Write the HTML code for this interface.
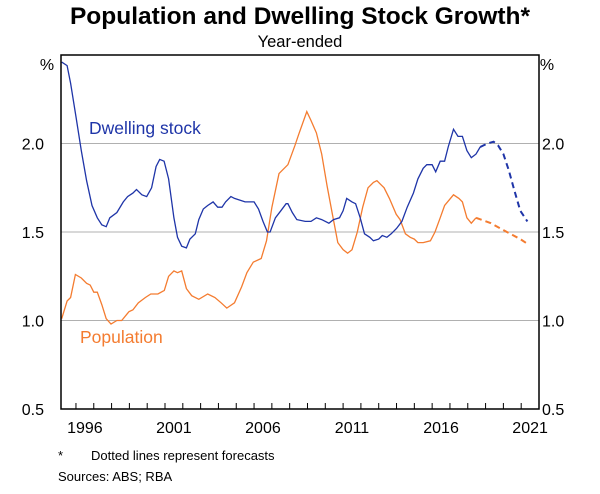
<!DOCTYPE html>
<html><head><meta charset="utf-8"><style>
body{margin:0;background:#fff;font-family:"Liberation Sans",Arial,sans-serif;}
svg text{font-family:"Liberation Sans",Arial,sans-serif;}
</style></head><body>
<svg id="chart" width="600" height="489" xmlns="http://www.w3.org/2000/svg">
<text x="300" y="24" text-anchor="middle" font-size="24.5" font-weight="bold">Population and Dwelling Stock Growth*</text>
<text x="300" y="47" text-anchor="middle" font-size="16.5">Year-ended</text>
<text x="47" y="70" text-anchor="middle" font-size="16">%</text>
<text x="547" y="70" text-anchor="middle" font-size="16">%</text>
<g id="grid"></g><g id="series"></g><g id="axes"></g>
<text x="89" y="134" font-size="17.5" fill="#1f35a8">Dwelling stock</text>
<text x="80" y="343" font-size="17.5" fill="#f47c30">Population</text>
<text x="58" y="460" font-size="13">*</text>
<text x="91" y="460" font-size="13">Dotted lines represent forecasts</text>
<text x="58" y="481" font-size="13">Sources:   ABS; RBA</text>
</svg>
<script>
const yTicks=[0.5,1.0,1.5,2.0];
const xLabels=[1996,2001,2006,2011,2016,2021];
const dwT=[1995.2,1995.5,1995.7,1996.0,1996.3,1996.6,1996.9,1997.2,1997.45,1997.7,1997.9,1998.3,1998.66,1998.9,1999.2,1999.4,1999.7,1999.97,2000.25,2000.5,2000.7,2000.95,2001.2,2001.5,2001.7,2001.94,2002.2,2002.4,2002.7,2002.9,2003.15,2003.4,2003.7,2003.96,2004.2,2004.4,2004.7,2004.9,2005.2,2005.5,2005.8,2006.0,2006.25,2006.5,2006.75,2006.9,2007.2,2007.5,2007.8,2007.9,2008.15,2008.4,2008.87,2009.2,2009.5,2009.8,2010.2,2010.46,2010.8,2011.0,2011.2,2011.5,2011.7,2011.96,2012.2,2012.5,2012.7,2013.0,2013.2,2013.46,2013.7,2014.0,2014.3,2014.6,2014.95,2015.2,2015.5,2015.7,2016.0,2016.2,2016.45,2016.7,2016.9,2017.2,2017.45,2017.7,2017.95,2018.2,2018.46,2018.7];
const dwV=[2.46,2.44,2.34,2.15,1.96,1.79,1.65,1.58,1.54,1.53,1.58,1.61,1.67,1.70,1.72,1.74,1.71,1.70,1.75,1.87,1.91,1.90,1.80,1.58,1.47,1.42,1.41,1.46,1.49,1.57,1.63,1.65,1.67,1.64,1.64,1.67,1.70,1.69,1.68,1.67,1.67,1.67,1.63,1.56,1.50,1.50,1.58,1.62,1.66,1.66,1.61,1.57,1.56,1.56,1.58,1.57,1.55,1.57,1.58,1.62,1.69,1.67,1.66,1.58,1.49,1.47,1.45,1.46,1.48,1.47,1.49,1.52,1.56,1.64,1.72,1.80,1.86,1.88,1.88,1.84,1.90,1.90,1.98,2.08,2.04,2.04,1.96,1.92,1.94,1.98];
const dwFT=[2018.7,2019.1,2019.45,2019.7,2020.0,2020.3,2020.6,2020.95,2021.35];
const dwFV=[1.98,2.00,2.01,1.99,1.94,1.85,1.74,1.62,1.56];
const popT=[1995.2,1995.5,1995.7,1995.97,1996.3,1996.6,1996.8,1997.0,1997.2,1997.45,1997.7,1997.97,1998.3,1998.57,1998.98,1999.2,1999.5,1999.9,2000.2,2000.6,2000.96,2001.2,2001.5,2001.7,2001.94,2002.2,2002.5,2002.9,2003.4,2003.8,2004.15,2004.47,2004.9,2005.3,2005.6,2005.96,2006.4,2006.7,2007.0,2007.4,2007.9,2008.3,2008.5,2008.96,2009.2,2009.5,2009.8,2010.1,2010.4,2010.7,2011.0,2011.25,2011.5,2011.8,2012.1,2012.4,2012.7,2012.9,2013.3,2013.6,2013.98,2014.2,2014.5,2014.77,2015.0,2015.2,2015.5,2015.9,2016.16,2016.45,2016.7,2017.2,2017.5,2017.7,2017.95,2018.2,2018.46];
const popV=[1.01,1.11,1.13,1.26,1.24,1.21,1.20,1.16,1.16,1.09,1.01,0.98,1.00,1.00,1.05,1.06,1.10,1.13,1.15,1.15,1.17,1.25,1.28,1.27,1.28,1.18,1.14,1.12,1.15,1.13,1.10,1.07,1.10,1.19,1.27,1.33,1.35,1.45,1.64,1.83,1.88,1.99,2.05,2.18,2.13,2.06,1.94,1.76,1.60,1.44,1.40,1.38,1.40,1.50,1.64,1.75,1.78,1.79,1.75,1.69,1.60,1.57,1.49,1.47,1.46,1.44,1.44,1.45,1.50,1.58,1.65,1.71,1.69,1.67,1.58,1.55,1.58];
const popFT=[2018.46,2019.3,2020.2,2020.95,2021.4];
const popFV=[1.58,1.55,1.50,1.46,1.43];

const L=61,R=539,T=55,B=409,yMin=0.5,yMax=2.5,t0=1995.16,t1=2022.0;
function xS(t){return L+(t-t0)/(t1-t0)*(R-L);}
function yS(v){return B-(v-yMin)/(yMax-yMin)*(B-T);}
const NS='http://www.w3.org/2000/svg';
function mk(tag,parent){const e=document.createElementNS(NS,tag);document.getElementById(parent).appendChild(e);return e;}
yTicks.forEach(v=>{
  if(v>yMin){const g=mk('line','grid');
  
  
  g.setAttribute('x1',L);g.setAttribute('x2',R);g.setAttribute('y1',yS(v));g.setAttribute('y2',yS(v));g.setAttribute('stroke','#b0b0b0');g.setAttribute('stroke-width','1');}
  const a=mk('text','axes');
  
  
  a.setAttribute('x',L-17);a.setAttribute('y',yS(v)+6);a.setAttribute('text-anchor','end');a.setAttribute('font-size','16');a.textContent=v.toFixed(1);
  const b=mk('text','axes');
  
  
  b.setAttribute('x',R+3);b.setAttribute('y',yS(v)+6);b.setAttribute('font-size','16');b.textContent=v.toFixed(1);
});
for(let yr=1996;yr<=2021;yr++){
  const tk=mk('line','axes');
  
  
  tk.setAttribute('x1',xS(yr));tk.setAttribute('x2',xS(yr));tk.setAttribute('y1',B);tk.setAttribute('y2',B-6);tk.setAttribute('stroke','#000');
}
xLabels.forEach(yr=>{
  const t=mk('text','axes');
  
  
  t.setAttribute('x',xS(yr+0.5));t.setAttribute('y',B+24);t.setAttribute('text-anchor','middle');t.setAttribute('font-size','16');t.textContent=yr;
});
const fr=mk('rect','axes');


fr.setAttribute('x',L);fr.setAttribute('y',T);fr.setAttribute('width',R-L);fr.setAttribute('height',B-T);fr.setAttribute('fill','none');fr.setAttribute('stroke','#000');fr.setAttribute('stroke-width','1.5');
function line(ts,vs,col,dash,name){
  const p=mk('path','series');
  
  
  p.setAttribute('d',ts.map((t,i)=>(i?'L':'M')+xS(t).toFixed(1)+' '+yS(vs[i]).toFixed(1)).join(''));
  p.setAttribute('fill','none');p.setAttribute('stroke',col);p.setAttribute('stroke-width',dash?'2':'1.3');
  if(dash)p.setAttribute('stroke-dasharray','6,4');
}
line(popT,popV,'#f47c30',false,'population-line');
line(popFT,popFV,'#f47c30',true,'population-forecast-line');
line(dwT,dwV,'#1f35a8',false,'dwelling-stock-line');
line(dwFT,dwFV,'#1f35a8',true,'dwelling-stock-forecast-line');
</script>
</body></html>
